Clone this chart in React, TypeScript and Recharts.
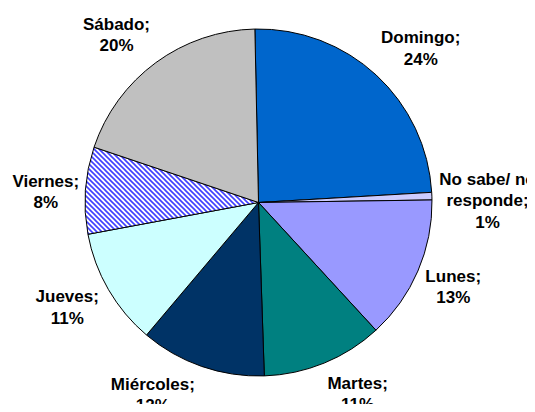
import { PieChart, Pie, Cell } from 'recharts'

// Días preferidos (porcentaje de respuestas)
const days = ['Domingo', 'No sabe/ no responde', 'Lunes', 'Martes', 'Miércoles', 'Jueves', 'Viernes', 'Sábado']
const shares = [24.4, 0.7, 13.4, 11.3, 11.7, 10.9, 8.1, 19.5]
const fills = ['#0066CC', '#CCCCFF', '#9999FF', '#008080', '#003366', '#CCFFFF', 'url(#hatch)', '#C0C0C0']

const data = days.map((name, i) => ({ name, value: shares[i] }))

// small tweaks to mimic the original label placement: [degrees clockwise, extra radius]
const labelTweak: Record<string, [number, number]> = {
  'Domingo': [3.7, 6],
  'No sabe/ no responde': [1.5, 11],
  'Lunes': [0, -6],
  'Martes': [-5.2, -3],
  'Miércoles': [9.7, 1],
  'Jueves': [1.5, 0],
  'Viernes': [-1, -5],
  'Sábado': [-3.9, 2],
}

const RADIAN = Math.PI / 180
const FONT = 17
const LINE = 21.5

function renderLabel(props: any) {
  const { cx, cy, midAngle, outerRadius, name, value } = props
  const [dAng, dR] = labelTweak[name] || [0, 0]
  const a = (midAngle - dAng) * RADIAN
  const r = outerRadius + 44.5 + dR
  const x = cx + r * Math.cos(a)
  const y = cy - r * Math.sin(a)
  const full = name + ';'
  let lines: string[] = [full]
  if (full.length > 12) {
    const k = full.lastIndexOf(' ')
    lines = [full.slice(0, k), full.slice(k + 1)]
  }
  lines.push(Math.round(value) + '%')
  const n = lines.length
  return (
    <text
      x={x}
      y={y}
      textAnchor="middle"
      fontFamily="'Liberation Sans', Arial, sans-serif"
      fontWeight="bold"
      fontSize={FONT}
      fill="#000"
    >
      {lines.map((t, i) => (
        <tspan key={i} x={x} y={y + (i - (n - 1) / 2) * LINE + FONT * 0.36}>
          {t}
        </tspan>
      ))}
    </text>
  )
}

export default function App() {
  return (
    <div style={{ margin: -8, width: 535, height: 412, background: '#fff', position: 'relative' }}>
      <svg width={0} height={0} style={{ position: 'absolute' }}>
        <defs>
          <pattern id="hatch" patternUnits="userSpaceOnUse" width={5} height={5}>
            <rect width={5} height={5} fill="#fff" />
            <path d="M-1,-1 L6,6 M-1,4 L1,6 M4,-1 L6,1" stroke="#4040ff" strokeWidth={1.6} />
          </pattern>
        </defs>
      </svg>
      <PieChart width={535} height={412} margin={{ top: 0, right: 0, bottom: 0, left: 0 }}>
        <Pie
          data={data}
          dataKey="value"
          nameKey="name"
          cx={258.5}
          cy={202.5}
          outerRadius={173.5}
          startAngle={91.2}
          endAngle={-268.8}
          stroke="#000"
          strokeWidth={1}
          label={renderLabel}
          labelLine={false}
          isAnimationActive={false}
        >
          {data.map((d, i) => (
            <Cell key={d.name} fill={fills[i]} />
          ))}
        </Pie>
      </PieChart>
    </div>
  )
}
